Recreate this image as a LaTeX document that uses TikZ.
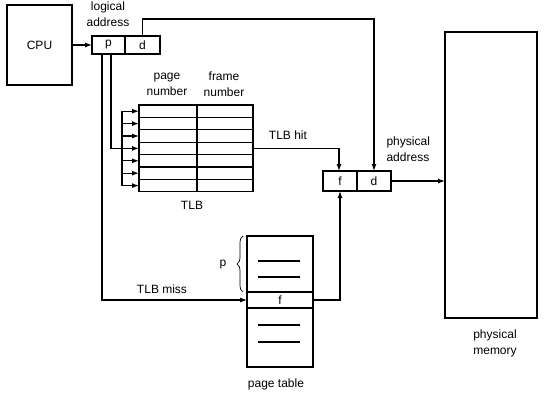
\documentclass[tikz,border=0pt]{standalone}
\usepackage{fontspec}
\setmainfont{Liberation Sans}
\usetikzlibrary{arrows.meta,decorations.pathreplacing}
\begin{document}
\begin{tikzpicture}[x=1pt,y=-1pt,
  font=\fontsize{12}{16}\selectfont,
  line width=1.15pt,
  >={Latex[length=7pt,width=5pt]},
  box/.style={draw, inner sep=0pt, outer sep=0pt, anchor=north west},
  lbl/.style={inner sep=0pt, align=center}]
\useasboundingbox (0,0) rectangle (547,408);
% CPU
\node[box, minimum width=65, minimum height=80] (cpu) at (7,5) {CPU};
% logical address
\node[box, minimum width=33, minimum height=18] (lp) at (92,36) {p};
\node[box, minimum width=35, minimum height=18] (ld) at (125,36) {d};
\node[lbl] (lalbl) at (108,14) {logical\\address};
\draw[->] (cpu.east |- lp.west) -- (lp.west);
% TLB
\foreach \i in {1,...,7}{
  \node[box, minimum width=58, minimum height=12.4] (pn\i) at (139,{105+12.4*(\i-1)}) {};
  \node[box, minimum width=56, minimum height=12.4] (fn\i) at (197,{105+12.4*(\i-1)}) {};
}
\node[lbl] (pnlbl) at (167,84) {page\\number};
\node[lbl] (fnlbl) at (224,84) {frame\\number};
\node[lbl] (tlblbl) at (192,205) {TLB};
\coordinate (bus) at (122,0);
\draw (bus |- pn1.west) -- (bus |- pn7.west);
\foreach \i in {1,...,7}{
  \draw[->] (bus |- pn\i.west) -- (pn\i.west);
}
\draw ([xshift=2.5pt]lp.south) |- (bus |- pn4.west);
% physical address
\node[box, minimum width=34, minimum height=20] (pf) at (323,171) {f};
\node[box, minimum width=34, minimum height=20] (pd) at (357,171) {d};
\node[lbl, align=left, anchor=west] (palbl) at (386,149) {physical\\address};
% top line d -> d
\coordinate (top) at (0,19);
\draw[->] (ld.north) -- (ld.north |- top) -| (pd.north);
% TLB hit
\draw[->] (fn4.east) -| ([xshift=-1pt]pf.north);
\node[lbl] (hitlbl) at (288,135) {TLB hit};
% physical memory
\node[box, minimum width=92, minimum height=286] (mem) at (445,32) {};
\node[lbl] (memlbl) at (495,343) {physical\\memory};
\draw[->] (pd.east) -- (pd.east -| mem.west);
% page table
\node[box, minimum width=66, minimum height=56] (ptu) at (247,236) {};
\node[box, minimum width=66, minimum height=16] (ptf) at (247,292) {f};
\node[box, minimum width=66, minimum height=59] (ptl) at (247,308) {};
\node[lbl] (ptlbl) at (276,384) {page table};
\draw (258,261) -- (300,261);
\draw (258,277) -- (300,277);
\draw (258,325) -- (300,325);
\draw (258,342) -- (300,342);
\draw[line width=0.7pt, decorate, decoration={brace, amplitude=6pt}] (243,292) -- (243,236);
\node[lbl] (plbl) at (223,265) {p};
% TLB miss
\draw[->] ([xshift=-6.5pt]lp.south) |- (ptf.west);
\node[lbl] (misslbl) at (162,289) {TLB miss};
% page table -> f
\draw[->] (ptf.east) -| (pf.south);
\end{tikzpicture}
\end{document}
